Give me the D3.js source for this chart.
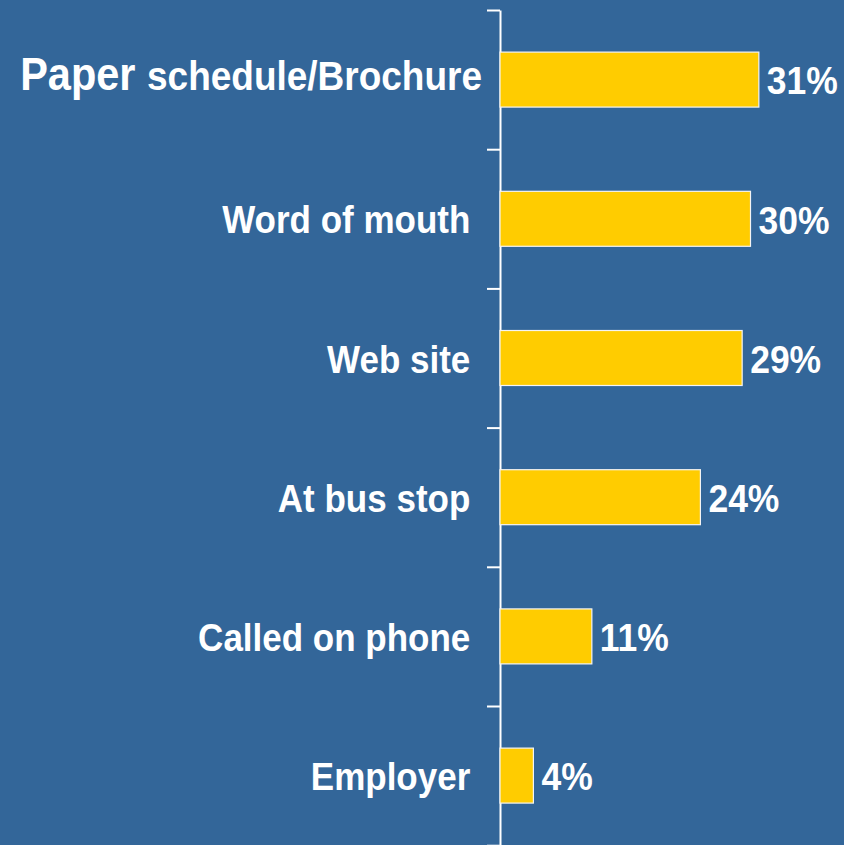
<!DOCTYPE html>
<html>
<head>
<meta charset="utf-8">
<script src="https://cdn.jsdelivr.net/npm/d3@7"></script>
<style>
  html, body { margin: 0; padding: 0; background: #336699; }
  svg { display: block; }
  text { font-family: "Liberation Sans", Arial, sans-serif; font-weight: bold; fill: #ffffff; white-space: pre; }
</style>
</head>
<body>
<div id="chart"></div>
<script>
// How riders learned about the service (share of respondents, %)
const categories = ["Paper schedule/Brochure", "Word of mouth ", "Web site ", "At bus stop ", "Called on phone ", "Employer "];
const values = [31, 30, 29, 24, 11, 4];
const valueLabels = ["31%", "30%", "29%", "24%", "11%", "4%"];

const width = 844, height = 845;
const axisX = 500, plotTop = 10, plotBottom = 845.2;
const textStretch = 1.1; // slightly tall lettering

const svg = d3.select("#chart").append("svg")
  .attr("width", width).attr("height", height);

svg.append("rect").attr("width", width).attr("height", height).attr("fill", "#336699");

const x = d3.scaleLinear().domain([0, 100]).range([axisX, axisX + 835]);
const y = d3.scaleBand().domain(categories).range([plotTop, plotBottom])
  .paddingInner(0.605).paddingOuter(0.3025);

// Category axis with ticks at the band boundaries
const bounds = d3.scaleLinear().domain([0, categories.length]).range([plotTop, plotBottom]);
const axis = svg.append("g")
  .attr("transform", `translate(${axisX},0)`)
  .call(d3.axisLeft(bounds).tickValues(d3.range(categories.length + 1))
    .tickSize(13).tickSizeOuter(0).tickFormat(""));
axis.select(".domain").attr("stroke", "#ffffff").attr("stroke-width", 2);
axis.selectAll(".tick line").attr("stroke", "#ffffff").attr("stroke-width", 2);

// Bars
svg.append("g").selectAll("rect")
  .data(categories)
  .join("rect")
  .attr("x", x(0))
  .attr("y", d => y(d))
  .attr("width", (d, i) => x(values[i]) - x(0))
  .attr("height", y.bandwidth())
  .attr("fill", "#FFCC00")
  .attr("stroke", "#f4f4f4")
  .attr("stroke-width", 1.2);

const mid = d => y(d) + y.bandwidth() / 2;

// Value labels
svg.append("g").selectAll("text")
  .data(categories)
  .join("text")
  .attr("transform", (d, i) => `translate(${x(values[i]) + 8},${mid(d)}) scale(1,${textStretch})`)
  .attr("dy", "0.38em")
  .attr("font-size", 35.5)
  .text((d, i) => valueLabels[i]);

// Category labels
const labels = svg.append("g").selectAll("text")
  .data(categories)
  .join("text")
  .attr("transform", d => `translate(${axisX - 20},${mid(d)}) scale(1,${textStretch})`)
  .attr("dy", "0.38em")
  .attr("text-anchor", "end")
  .attr("font-size", 35);

labels.each(function(d, i) {
  const t = d3.select(this);
  if (i === 0) {
    const [first, ...rest] = d.split(" ");
    t.attr("transform", `translate(${axisX - 18},${mid(d)}) scale(1,${textStretch})`)
      .attr("dy", "0.27em");
    t.append("tspan").attr("font-size", 41.5).text(first + " ");
    t.append("tspan").attr("font-size", 37).text(rest.join(" "));
  } else {
    t.text(d);
  }
});
</script>
</body>
</html>
